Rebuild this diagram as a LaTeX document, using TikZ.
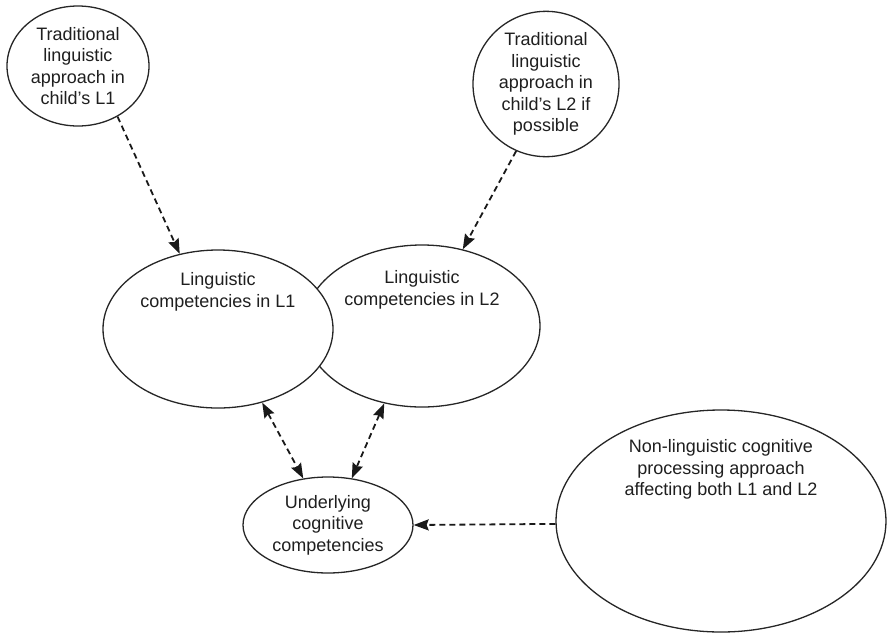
\documentclass[tikz,border=0pt]{standalone}
\usepackage{fontspec}
\setmainfont{Liberation Sans}
\usetikzlibrary{shapes.geometric,arrows.meta,positioning}

\begin{document}
\begin{tikzpicture}[x=1pt,y=-1pt,
  bubble/.style={ellipse,draw=black!85,line width=1.3pt,fill=white,inner sep=0pt,
    align=center,text=black!88,font=\fontsize{18}{21.5}\selectfont},
  txt/.style={align=center,inner sep=0pt,text=black!88,font=\fontsize{18}{21.5}\selectfont},
  dashlink/.style={line width=1.8pt,black!90,dash pattern=on 6pt off 4pt,
    -{Stealth[length=15pt,width=11pt,inset=2pt]}},
  dashboth/.style={dashlink,{Stealth[length=15pt,width=11pt,inset=2pt]}-{Stealth[length=15pt,width=11pt,inset=2pt]}}]

  \useasboundingbox (0,0) rectangle (887,633);

  % the two traditional approaches
  \node[bubble,minimum width=142pt,minimum height=120pt] (tradone) at (78,66)
    {Traditional\\linguistic\\approach in\\child's L1};
  \node[bubble,minimum width=146pt,minimum height=140pt] (tradtwo) at (546,84)
    {Traditional\\linguistic\\approach in\\child's L2 if\\possible};

  % competencies, L1 drawn over L2
  \node[bubble,minimum width=236pt,minimum height=162pt] (ltwo) at (422,326) {};
  \node[bubble,minimum width=230pt,minimum height=158pt] (lone) at (218,329) {};
  \node[txt,below=23pt of lone.north] (lonetxt) {Linguistic\\competencies in L1};
  \node[txt,below=26pt of ltwo.north] (ltwotxt) {Linguistic\\competencies in L2};

  \node[bubble,minimum width=170pt,minimum height=96pt] (under) at (328,525)
    {Underlying\\cognitive\\competencies};

  \node[bubble,minimum width=330pt,minimum height=222pt] (nonling) at (721,521) {};
  \node[txt,below=30pt of nonling.north] (nonlingtxt)
    {Non-linguistic cognitive\\processing approach\\affecting both L1 and L2};

  % links
  \draw[dashlink] (tradone.-52) -- (lone.117);
  \draw[dashlink] (tradtwo.-114) -- (ltwo.62);
  \draw[dashboth] (lone.-59) -- (under.118);
  \draw[dashboth] (ltwo.-116) -- (under.63);
  \draw[dashlink] (nonling.181) -- (under.east);
\end{tikzpicture}
\end{document}
